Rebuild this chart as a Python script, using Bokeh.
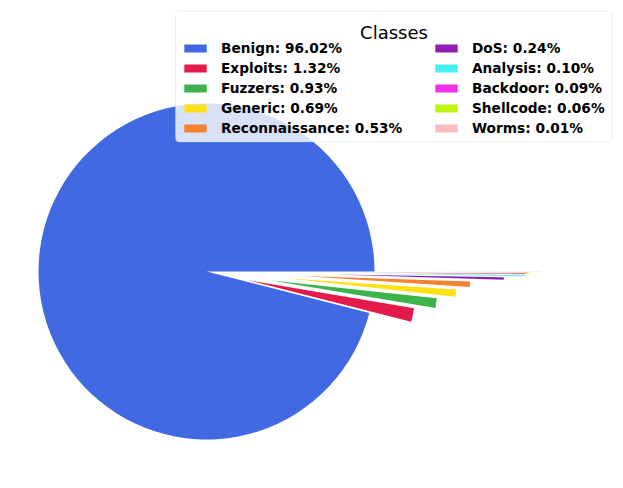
import numpy as np
from bokeh.plotting import figure
from bokeh.models import Range1d, ColumnDataSource, Legend, LegendItem, BoxAnnotation, Label
from bokeh.embed import file_html
from bokeh.resources import INLINE

classes = ["Benign", "Exploits", "Fuzzers", "Generic", "Reconnaissance",
           "DoS", "Analysis", "Backdoor", "Shellcode", "Worms"]
percentages = [96.02, 1.32, 0.93, 0.69, 0.53, 0.24, 0.10, 0.09, 0.06, 0.01]
explode = [0.0, 0.255, 0.38, 0.49, 0.57, 0.77, 0.89, 0.90, 0.92, 0.99]
colors = ["#4169E1", "#E6194B", "#3CB44B", "#FFE119", "#F58231",
          "#911EB4", "#46F0F0", "#F032E6", "#BCF60C", "#FABEBE"]
legend_title = "Classes"

W, H = 615, 480
TOP = 488
p = figure(width=W, height=H, output_backend="svg", toolbar_location=None,
           x_axis_type=None, y_axis_type=None, min_border=0,
           x_range=Range1d(0, W), y_range=Range1d(TOP - H, TOP))
p.outline_line_color = None
p.background_fill_color = "white"

cx, cy, r = 206, TOP - 271, 168
vals = np.array(percentages, dtype=float)
fr = vals / vals.sum()
ends = np.cumsum(fr) * 2 * np.pi
starts = np.concatenate([[0.0], ends[:-1]])
mids = (starts + ends) / 2
ex = np.array(explode)
xs = cx + ex * r * np.cos(mids)
ys = cy + ex * r * np.sin(mids)
labels = [f"{c}: {v:.2f}%" for c, v in zip(classes, percentages)]

src = ColumnDataSource(dict(x=xs, y=ys, start=starts, end=ends, color=colors, label=labels))
wr = p.wedge(x="x", y="y", radius=r, start_angle="start", end_angle="end",
             direction="anticlock", fill_color="color", line_color=None, source=src)

# legend frame
frame = BoxAnnotation(left=175, right=612, bottom=TOP - 141.5, top=TOP - 10.7,
                      fill_color="white", fill_alpha=0.8,
                      line_color="#cccccc", line_width=1, border_radius=4)
p.add_layout(frame)
p.add_layout(Label(x=393.5, y=TOP - 31.7, text=legend_title, text_align="center",
                   text_baseline="alphabetic", text_font="DejaVu Sans",
                   text_font_size="18px", text_color="black"))

common = dict(label_text_font="DejaVu Sans", label_text_font_size="13.7px",
              label_text_font_style="bold", label_text_color="black",
              glyph_width=28, glyph_height=10, label_standoff=12,
              label_height=20, spacing=0, padding=0, margin=0,
              border_line_color=None, background_fill_alpha=0)
half = 5
items1 = [LegendItem(label=labels[i], renderers=[wr], index=i) for i in range(half)]
items2 = [LegendItem(label=labels[i], renderers=[wr], index=i) for i in range(half, len(labels))]
p.add_layout(Legend(items=items1, location=(181, 342), **common))
p.add_layout(Legend(items=items2, location=(432, 342), **common))

open("out.html", "w").write(file_html(p, INLINE))
